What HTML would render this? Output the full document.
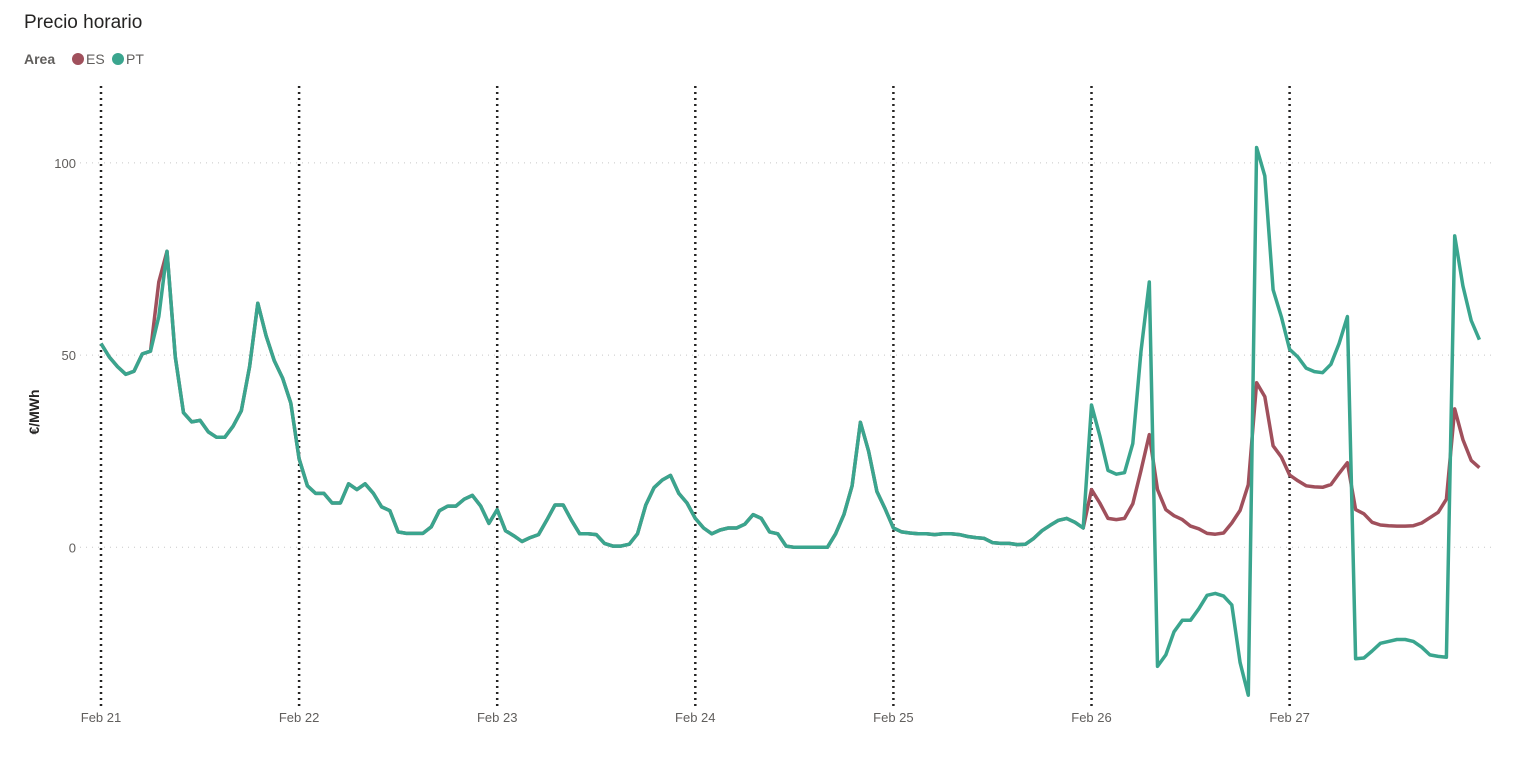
<!DOCTYPE html>
<html><head><meta charset="utf-8">
<style>
body{margin:0;background:#fff;font-family:"Liberation Sans",sans-serif;}
svg text{font-family:"Liberation Sans",sans-serif;}
</style></head>
<body>
<svg id="chart" width="1533" height="772" viewBox="0 0 1533 772" xmlns="http://www.w3.org/2000/svg">
<text x="24" y="28" font-size="19" fill="#252423">Precio horario</text>
<g>
<text x="24" y="64" font-size="14" font-weight="bold" fill="#605e5c">Area</text>
<circle cx="78" cy="59" r="6" fill="#a0505c"/>
<text x="86" y="64" font-size="14" fill="#605e5c">ES</text>
<circle cx="118" cy="59" r="6" fill="#3aa58e"/>
<text x="126" y="64" font-size="14" fill="#605e5c">PT</text>
</g>
<text transform="translate(39,412) rotate(-90)" text-anchor="middle" font-size="14" font-weight="bold" fill="#252423">€/MWh</text>
<g id="grid"></g>
<g id="xax"></g>
<g id="lines"></g>
</svg>
<script>
const dayLabels = ["Feb 21","Feb 22","Feb 23","Feb 24","Feb 25","Feb 26","Feb 27"];
const yTicks = [0, 50, 100];
const ptValues = [
53,49.5,47,45,45.8,50.3,51,60,77,49.5,35,32.6,33,30,28.6,28.6,31.5,35.5,47,63.5,55,48.5,44,37.5,
23,16,14,14,11.5,11.5,16.5,15,16.5,14,10.5,9.5,4,3.6,3.6,3.6,5.3,9.5,10.7,10.7,12.5,13.5,10.7,6.2,
9.8,4.3,3,1.5,2.5,3.3,7,11,11,7,3.5,3.5,3.3,1,0.3,0.3,0.8,3.5,11,15.5,17.5,18.7,14,11.5,
7.5,5,3.5,4.5,5,5,6,8.5,7.5,4,3.5,0.3,0,0,0,0,0,3.5,8.5,16,32.5,25,14.5,10,
5,4,3.7,3.5,3.5,3.3,3.5,3.5,3.3,2.8,2.5,2.3,1.2,1,1,0.7,0.8,2.3,4.3,5.7,7,7.5,6.5,5,
37,29,20,19,19.4,27,51,69,-31,-28,-22,-19,-19,-16,-12.5,-12,-12.7,-15,-30,-38.5,104,96.6,67,60,
51.5,49.5,46.6,45.7,45.4,47.6,53,60,-29,-28.8,-27,-25,-24.5,-24,-24,-24.5,-26,-28,-28.4,-28.6,81,68,59,54];
const esValues = [
53,49.5,47,45,45.8,50.3,51,69,77,49.5,35,32.6,33,30,28.6,28.6,31.5,35.5,47,63.5,55,48.5,44,37.5,
23,16,14,14,11.5,11.5,16.5,15,16.5,14,10.5,9.5,4,3.6,3.6,3.6,5.3,9.5,10.7,10.7,12.5,13.5,10.7,6.2,
9.8,4.3,3,1.5,2.5,3.3,7,11,11,7,3.5,3.5,3.3,1,0.3,0.3,0.8,3.5,11,15.5,17.5,18.7,14,11.5,
7.5,5,3.5,4.5,5,5,6,8.5,7.5,4,3.5,0.3,0,0,0,0,0,3.5,8.5,16,32.5,25,14.5,10,
5,4,3.7,3.5,3.5,3.3,3.5,3.5,3.3,2.8,2.5,2.3,1.2,1,1,0.7,0.8,2.3,4.3,5.7,7,7.5,6.5,5,
15,11.5,7.5,7.2,7.5,11.3,20,29.3,15,9.8,8.2,7.2,5.5,4.8,3.6,3.4,3.7,6.3,9.6,16.3,42.8,39.2,26.4,23.5,
18.8,17.3,16,15.7,15.6,16.3,19.2,22,9.8,8.7,6.5,5.8,5.6,5.5,5.5,5.6,6.3,7.7,9.1,12.5,36,28,22.6,20.7];

const NS="http://www.w3.org/2000/svg";
const x0=101, dayW=198.1, hourW=dayW/24;
function xPos(i){return x0+i*hourW;}
function yPos(v){return 701-(v+40)*(615/160);}
function mk(tag,attrs,parent){const e=document.createElementNS(NS,tag);for(const k in attrs)e.setAttribute(k,attrs[k]);parent.appendChild(e);return e;}

const grid=document.getElementById('grid');
yTicks.forEach(t=>{
  const l=mk('line',{x1:80,x2:1495,y1:yPos(t),y2:yPos(t),stroke:'#c8c8c8','stroke-width':1,'stroke-dasharray':'1 5'},grid);
  
  
  const tx=mk('text',{x:76,y:yPos(t)+5,'text-anchor':'end','font-size':13,fill:'#605e5c'},grid);
  tx.textContent=t;
  
  
});
const xax=document.getElementById('xax');
dayLabels.forEach((d,i)=>{
  const x=xPos(i*24);
  const l=mk('line',{x1:x,x2:x,y1:86,y2:706,stroke:'#252423','stroke-width':2.5,'stroke-dasharray':'2 4'},xax);
  
  
  const tx=mk('text',{x:x,y:722,'text-anchor':'middle','font-size':13,fill:'#605e5c'},xax);
  tx.textContent=d;
  
  
});
const lines=document.getElementById('lines');
function path(vals){return vals.map((v,i)=>(i?'L':'M')+xPos(i).toFixed(1)+','+yPos(v).toFixed(1)).join('');}
const es=mk('path',{d:path(esValues),fill:'none',stroke:'#a0505c','stroke-width':3.5,'stroke-linejoin':'round'},lines);


const pt=mk('path',{d:path(ptValues),fill:'none',stroke:'#3aa58e','stroke-width':3.5,'stroke-linejoin':'round'},lines);


</script>
</body></html>
